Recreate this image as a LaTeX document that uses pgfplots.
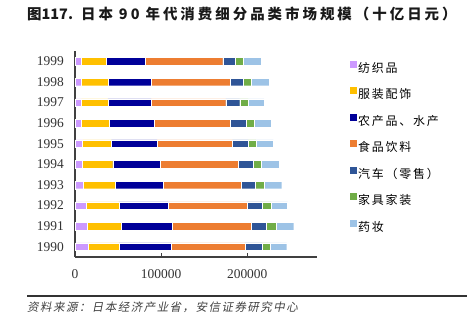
\documentclass[border=0pt]{standalone}
\usepackage{pgfplots}
\pgfplotsset{compat=1.18}
\usepackage{fontspec}
\setmainfont{Liberation Serif}
\newfontfamily\cjk{Noto Sans CJK SC}
\newfontfamily\cjkit{Noto Sans CJK SC}[FakeSlant=0.2]
\definecolor{cTex}{HTML}{CC99FF}
\definecolor{cApp}{HTML}{FFC000}
\definecolor{cAgr}{HTML}{000099}
\definecolor{cFood}{HTML}{ED7D31}
\definecolor{cCar}{HTML}{2F5597}
\definecolor{cFur}{HTML}{70AD47}
\definecolor{cDrug}{HTML}{9DC3E6}
\newlength\lsp
\def\lspaced#1{\lspi#1\relax}
\def\lspi#1{\ifx\relax#1\else#1\hspace{\lsp}\expandafter\lspi\fi}
\begin{document}
\begin{tikzpicture}
\path[use as bounding box] (0,0) rectangle (467bp,-322bp);
\node[anchor=west, inner sep=0pt, text=black!90] at (27bp,-14bp) {\cjk\bfseries\fontsize{14.5}{16}\selectfont\setlength\lsp{3.0bp}图117.\hspace{8bp}\lspaced{日本}\hspace{3bp}\lspaced{90}\hspace{3bp}\lspaced{年代消费细分品类市场规模（十亿日元）}};
\begin{axis}[
  at={(75bp,-257bp)}, anchor=south west,
  scale only axis, width=242bp, height=206bp,
  xbar stacked, bar width=7.5bp,
  xmin=0, xmax=281000, ymin=-0.5, ymax=9.5,
  axis x line*=bottom, axis y line*=left,
  axis line style={draw=black!75, line width=1.2bp},
  xtick={0,100000,200000}, scaled x ticks=false,
  /pgf/number format/fixed, /pgf/number format/1000 sep={},
  /pgf/number format/assume math mode=true,
  ytick={0,...,9},
  yticklabels={1990,1991,1992,1993,1994,1995,1996,1997,1998,1999},
  tick label style={font=\fontsize{13.5}{14}\selectfont, text=black!80},
  yticklabel style={inner sep=0pt, xshift=-11bp},
  xticklabel style={inner sep=0pt, yshift=-12bp},
  tick align=inside, major tick length=4bp,
  x tick style={draw=black!75, line width=1bp},
  y tick style={draw=none},
  every axis plot/.append style={draw=white, line width=0.3bp},
  legend image code/.code={\fill[#1, draw=none] (0bp,0.5bp) rectangle (7bp,7.5bp);},
  legend cell align=left,
  legend style={at={(1.124,0.532)}, anchor=west, draw=none, fill=none,
    font=\cjk\fontsize{12}{14}\selectfont\setlength\lsp{1.8bp},
    row sep=12bp, nodes={inner sep=1pt, text height=10bp, text depth=2bp}},
]
\addplot[fill=cTex] coordinates {(15800,0) (14200,1) (12700,2) (10000,3) (8800,4) (8800,5) (7300,6) (7300,7) (7300,8) (7300,9)};
\addlegendentry{\lspaced{纺织品}}
\addplot[fill=cApp] coordinates {(35000,0) (39200,1) (38100,2) (36500,3) (35000,4) (33500,5) (32300,6) (30800,7) (30800,8) (29200,9)};
\addlegendentry{\lspaced{服装配饰}}
\addplot[fill=cAgr] coordinates {(61200,0) (59600,1) (57300,2) (55800,3) (55400,4) (53100,5) (52700,6) (50400,7) (50400,8) (44600,9)};
\addlegendentry{\lspaced{农产品、水产}}
\addplot[fill=cFood] coordinates {(85400,0) (91200,1) (91900,2) (90800,3) (90800,4) (87300,5) (88100,6) (86500,7) (91900,8) (90400,9)};
\addlegendentry{\lspaced{食品饮料}}
\addplot[fill=cCar] coordinates {(19600,0) (18100,1) (16900,2) (16500,3) (16500,4) (18500,5) (18100,6) (16200,7) (15400,8) (15000,9)};
\addlegendentry{\lspaced{汽车（零售）}}
\addplot[fill=cFur] coordinates {(9200,0) (10800,1) (10800,2) (9600,3) (10000,4) (8800,5) (9600,6) (10000,7) (8500,8) (9200,9)};
\addlegendentry{\lspaced{家具家装}}
\addplot[fill=cDrug] coordinates {(19600,0) (20800,1) (19200,2) (20800,3) (20800,4) (20400,5) (20000,6) (18500,7) (20800,8) (20800,9)};
\addlegendentry{\lspaced{药妆}}
\end{axis}
\draw[line width=1.5bp, black!80] (27bp,-296bp) -- (467bp,-296bp);
\node[anchor=west, inner sep=0pt, text=black!75] at (27bp,-307bp) {\cjkit\fontsize{11.5}{12}\selectfont\setlength\lsp{1.5bp}\lspaced{资料来源：日本经济产业省，安信证券研究中心}};
\end{tikzpicture}
\end{document}
